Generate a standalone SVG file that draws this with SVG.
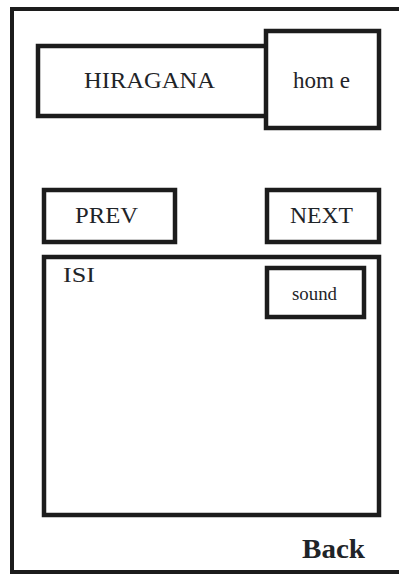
<svg xmlns="http://www.w3.org/2000/svg" width="399" height="574" viewBox="0 0 399 574">
<style>
.box{fill:#fff;stroke:#1c1c1c;stroke-width:4.5}
.t{font-family:"Liberation Serif","Times New Roman",serif;fill:#1f2428}
</style>
<rect width="399" height="574" fill="#fff"/>
<g id="frame"><rect x="12" y="9" width="400" height="563" fill="none" stroke="#1c1c1c" stroke-width="4"/></g>
<g id="hiragana"><rect class="box" x="38" y="46" width="229" height="70"/><text class="t" x="84" y="88" font-size="24" textLength="131" lengthAdjust="spacingAndGlyphs">HIRAGANA</text></g>
<g id="home"><rect class="box" x="266" y="31" width="113" height="97"/><text class="t" x="293" y="88" font-size="24" textLength="57" lengthAdjust="spacingAndGlyphs">hom e</text></g>
<g id="prev"><rect class="box" x="44" y="190" width="131" height="52"/><text class="t" x="75" y="223" font-size="23" textLength="63" lengthAdjust="spacingAndGlyphs">PREV</text></g>
<g id="next"><rect class="box" x="267" y="190" width="112" height="52"/><text class="t" x="290" y="223" font-size="23" textLength="63" lengthAdjust="spacingAndGlyphs">NEXT</text></g>
<g id="content"><rect class="box" x="44" y="257" width="335" height="258"/><text class="t" x="63" y="282" font-size="22" textLength="32" lengthAdjust="spacingAndGlyphs">ISI</text></g>
<g id="sound"><rect class="box" x="267" y="268" width="97" height="49"/><text class="t" x="292" y="300" font-size="18" textLength="45" lengthAdjust="spacingAndGlyphs">sound</text></g>
<g id="back"><text class="t" x="302" y="558" font-size="28" font-weight="bold" textLength="63" lengthAdjust="spacingAndGlyphs">Back</text></g>
<g id="connectors"></g>
</svg>
